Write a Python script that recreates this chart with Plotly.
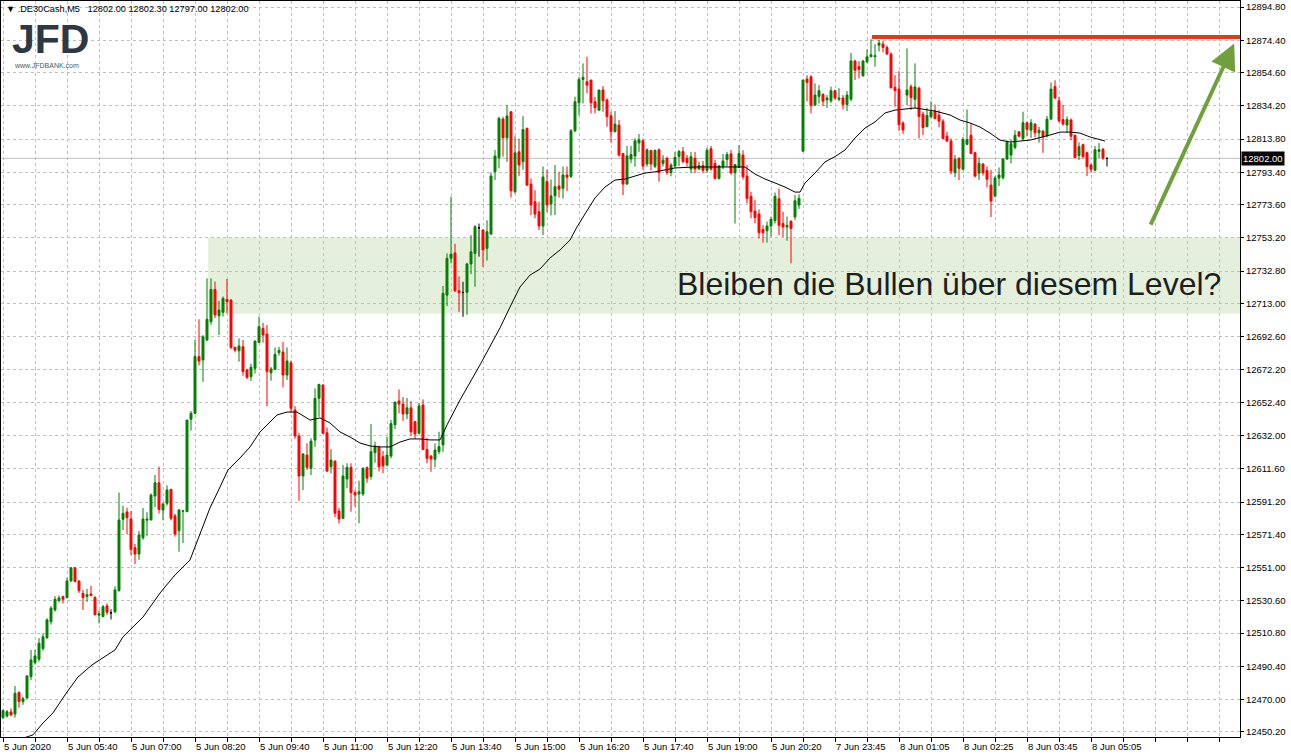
import plotly.graph_objects as go

# ---------------- data ----------------
opens = [
12459.0,12460.0,12462.5,12461.2,12474.5,12468.8,12471.0,12484.1,12492.7,12494.8,
12501.3,12508.0,12517.8,12525.0,12530.8,12533.2,12532.6,12542.8,12550.9,12542.8,
12535.2,12533.2,12534.8,12532.6,12521.8,12521.0,12527.5,12523.2,12523.9,12536.9,
12580.6,12585.1,12580.8,12563.2,12559.3,12569.3,12580.1,12580.2,12594.9,12603.0,
12586.3,12590.4,12599.0,12582.7,12573.6,12585.5,12585.3,12642.0,12645.6,12680.4,
12678.3,12690.6,12701.8,12721.6,12705.5,12707.6,12715.5,12715.1,12686.1,12684.0,
12686.5,12672.2,12668.1,12673.2,12689.0,12697.7,12694.2,12670.5,12672.6,12682.8,
12683.2,12669.1,12676.6,12647.7,12631.7,12607.2,12620.0,12611.9,12629.2,12654.8,
12663.0,12633.7,12612.9,12616.4,12585.7,12581.2,12605.3,12612.5,12597.0,12596.1,
12596.1,12612.3,12606.9,12621.5,12624.8,12619.0,12613.9,12619.4,12638.6,12653.2,
12651.3,12645.2,12649.0,12640.6,12633.4,12650.7,12623.5,12619.4,12617.4,12622.1,
12626.2,12718.1,12740.7,12744.0,12720.8,12719.7,12719.8,12737.2,12743.7,12759.4,
12758.0,12746.8,12755.6,12793.8,12802.4,12826.1,12814.6,12830.6,12781.5,12806.0,
12799.9,12820.3,12786.2,12775.4,12769.3,12760.5,12787.8,12774.0,12779.0,12785.0,
12783.6,12791.8,12790.9,12818.9,12836.1,12850.4,12849.0,12850.0,12836.7,12831.6,
12843.9,12837.8,12828.1,12818.3,12822.4,12805.0,12786.2,12801.6,12803.4,12811.4,
12812.8,12798.5,12806.8,12797.1,12807.3,12798.9,12802.0,12793.3,12797.3,12803.1,
12806.2,12802.0,12795.5,12802.0,12795.5,12797.6,12794.7,12807.9,12798.9,12789.7,
12796.8,12801.3,12804.8,12793.1,12796.4,12804.0,12791.1,12778.7,12769.7,12767.8,
12758.4,12757.6,12760.5,12763.8,12777.2,12762.0,12759.9,12763.4,12766.0,12773.4,
12806.4,12850.6,12852.0,12834.7,12840.0,12841.2,12837.9,12837.3,12843.5,12838.2,
12839.0,12835.0,12838.3,12861.7,12858.2,12852.7,12861.2,12864.3,12864.3,12871.4,
12872.1,12870.0,12866.0,12845.6,12844.5,12823.6,12840.8,12846.0,12838.2,12845.0,
12829.1,12821.5,12827.5,12831.0,12828.5,12824.8,12815.6,12812.6,12793.2,12802.0,
12795.3,12810.6,12816.2,12805.4,12792.9,12798.5,12794.5,12785.6,12778.9,12789.9,
12790.1,12801.6,12804.0,12808.7,12818.3,12814.2,12823.8,12819.3,12823.0,12817.7,
12818.7,12815.8,12826.1,12846.0,12837.3,12825.8,12822.4,12825.5,12816.2,12803.7,
12810.4,12805.4,12797.9,12794.7,12806.2,12807.5,12802.0]
highs = [
12464.0,12463.7,12464.7,12478.4,12475.0,12471.8,12485.0,12500.5,12500.5,12507.7,
12510.7,12519.9,12527.5,12533.5,12533.9,12533.8,12544.8,12551.0,12551.0,12543.0,
12537.3,12538.0,12539.8,12533.5,12524.7,12528.0,12529.0,12525.4,12539.5,12597.0,
12589.0,12587.7,12585.7,12565.5,12573.5,12587.5,12585.0,12596.5,12607.9,12612.9,
12591.0,12601.4,12599.2,12584.0,12587.0,12586.3,12641.5,12647.0,12690.6,12703.3,
12693.6,12728.4,12728.4,12726.4,12714.6,12717.3,12728.0,12715.5,12686.5,12691.6,
12690.6,12673.0,12676.0,12690.0,12704.9,12701.0,12699.8,12674.0,12686.0,12686.4,
12689.5,12686.0,12678.0,12650.0,12633.7,12621.0,12627.2,12630.3,12660.9,12663.6,
12663.4,12637.0,12623.6,12616.4,12587.6,12614.0,12615.0,12615.0,12598.6,12604.3,
12612.5,12613.0,12639.0,12628.2,12625.7,12622.5,12631.3,12641.6,12652.7,12660.3,
12655.5,12655.0,12653.0,12641.0,12652.0,12654.2,12630.5,12620.0,12627.2,12634.3,
12723.7,12743.7,12778.5,12749.6,12729.6,12726.3,12738.0,12754.9,12761.1,12762.0,
12758.3,12764.0,12793.3,12807.1,12827.5,12827.5,12834.7,12830.6,12815.6,12814.0,
12827.9,12821.0,12789.7,12782.5,12775.4,12797.0,12795.0,12789.0,12797.9,12793.8,
12797.0,12797.0,12820.0,12839.8,12852.0,12860.2,12864.3,12850.2,12839.8,12844.0,
12846.3,12838.8,12830.6,12831.0,12825.5,12805.0,12809.6,12809.6,12814.2,12816.9,
12814.0,12808.0,12807.3,12807.5,12808.0,12804.0,12803.0,12799.0,12806.0,12807.1,
12809.0,12804.0,12806.0,12806.0,12800.0,12800.5,12808.5,12809.6,12801.0,12798.0,
12804.6,12806.0,12807.2,12798.5,12810.2,12807.0,12797.9,12781.5,12776.4,12770.7,
12761.0,12763.3,12766.3,12781.0,12783.5,12769.3,12766.3,12764.0,12779.5,12780.0,
12850.2,12853.0,12853.0,12848.0,12846.9,12842.0,12840.8,12846.0,12844.0,12845.0,
12840.8,12843.3,12866.7,12862.4,12861.6,12862.3,12868.8,12875.0,12872.0,12874.6,
12874.0,12871.3,12867.0,12853.0,12855.5,12824.7,12869.4,12847.3,12860.2,12846.0,
12830.6,12833.0,12837.0,12835.0,12831.6,12826.0,12818.3,12814.2,12804.0,12802.6,
12815.0,12832.0,12823.4,12806.0,12802.6,12799.2,12797.0,12794.8,12791.1,12796.4,
12802.0,12813.0,12813.2,12819.3,12818.5,12830.6,12824.5,12826.0,12823.6,12821.4,
12819.3,12828.1,12848.6,12849.9,12839.8,12834.7,12827.7,12826.5,12816.5,12811.8,
12811.0,12806.0,12798.9,12809.6,12811.4,12808.5,12802.3]
lows = [
12458.0,12459.0,12460.2,12459.0,12465.1,12466.8,12470.5,12482.1,12491.5,12493.3,
12500.0,12507.3,12516.0,12524.0,12529.6,12529.0,12532.0,12542.5,12542.0,12535.5,
12525.0,12530.0,12533.5,12521.7,12516.7,12520.5,12522.0,12519.2,12523.0,12536.2,
12574.0,12571.6,12558.7,12553.2,12555.8,12568.0,12570.5,12580.0,12588.0,12584.3,
12580.0,12589.0,12580.0,12570.0,12560.7,12566.0,12585.0,12635.0,12645.0,12675.0,
12665.0,12690.0,12700.0,12704.0,12693.6,12705.0,12707.0,12685.0,12683.0,12677.3,
12668.6,12666.6,12665.5,12670.0,12688.7,12689.0,12650.0,12665.6,12672.0,12681.0,
12661.6,12666.0,12646.0,12630.0,12592.0,12598.6,12610.9,12607.8,12625.1,12643.5,
12633.0,12609.6,12608.8,12582.0,12578.0,12580.8,12599.7,12585.3,12588.4,12578.2,
12595.0,12603.0,12605.0,12615.3,12610.0,12609.0,12613.0,12618.0,12636.0,12645.6,
12641.0,12642.0,12632.0,12630.0,12633.0,12623.0,12615.0,12609.8,12612.5,12620.5,
12622.0,12711.4,12737.6,12720.0,12707.9,12704.8,12706.0,12731.0,12723.3,12741.7,
12735.5,12739.3,12755.0,12788.7,12795.9,12803.0,12799.9,12778.0,12780.5,12791.0,
12795.0,12785.0,12767.2,12765.2,12758.0,12755.0,12769.0,12767.0,12767.2,12778.0,
12777.4,12782.0,12790.0,12818.0,12828.4,12835.7,12842.0,12829.6,12829.6,12831.0,
12830.6,12821.4,12811.6,12818.0,12803.0,12779.5,12786.0,12799.0,12796.9,12806.0,
12795.0,12797.0,12794.6,12796.0,12787.7,12797.0,12792.0,12791.0,12796.0,12797.3,
12799.0,12797.0,12793.0,12793.0,12795.0,12793.0,12793.0,12794.4,12789.0,12789.0,
12795.4,12797.0,12792.0,12762.0,12796.0,12789.0,12774.3,12765.2,12762.0,12752.9,
12750.3,12750.3,12754.0,12762.0,12754.9,12753.7,12751.5,12737.6,12764.0,12771.0,
12806.0,12837.0,12829.6,12834.0,12835.6,12834.0,12833.0,12836.0,12838.0,12837.0,
12832.0,12831.0,12837.0,12850.0,12851.0,12852.0,12860.3,12864.0,12858.3,12867.5,
12867.0,12865.5,12845.0,12833.7,12818.9,12817.0,12834.7,12831.6,12832.6,12814.2,
12816.3,12821.0,12826.4,12826.0,12821.0,12814.0,12812.0,12792.2,12790.4,12788.7,
12794.7,12810.0,12804.6,12790.4,12788.7,12791.5,12784.2,12766.0,12778.0,12785.0,
12789.0,12801.0,12798.8,12807.5,12815.0,12812.8,12815.5,12814.5,12815.0,12811.6,
12805.4,12814.8,12825.5,12838.4,12824.0,12822.0,12817.7,12813.2,12802.0,12801.0,
12801.8,12791.1,12793.2,12794.0,12802.2,12801.0,12797.0]
closes = [
12463.3,12462.6,12460.6,12473.9,12468.8,12470.6,12484.5,12494.4,12496.8,12504.6,
12508.6,12518.9,12526.1,12531.6,12532.4,12531.6,12542.8,12550.9,12542.4,12536.9,
12532.6,12534.4,12533.8,12522.1,12522.7,12527.0,12523.6,12523.2,12537.3,12580.2,
12584.3,12581.6,12562.2,12559.3,12571.0,12580.8,12580.8,12595.5,12603.0,12586.7,
12590.0,12598.6,12581.2,12571.6,12586.3,12585.9,12641.5,12645.6,12680.4,12677.7,
12692.6,12703.3,12721.6,12705.9,12709.0,12716.1,12714.1,12686.1,12684.4,12686.9,
12671.2,12667.7,12673.9,12690.0,12698.7,12693.6,12671.2,12672.8,12681.8,12684.2,
12669.1,12677.7,12648.7,12631.7,12607.2,12620.7,12612.5,12628.6,12654.8,12663.4,
12633.4,12610.2,12617.0,12584.3,12580.8,12607.2,12612.5,12597.0,12595.5,12597.5,
12611.9,12605.8,12622.1,12625.6,12612.9,12613.3,12620.0,12639.3,12652.5,12651.3,
12645.2,12649.0,12634.3,12633.0,12650.1,12623.5,12618.0,12617.6,12623.1,12625.2,
12719.2,12740.7,12743.3,12720.8,12719.6,12719.7,12737.2,12744.7,12760.0,12759.4,
12745.8,12757.0,12791.2,12803.4,12826.5,12814.6,12828.0,12782.1,12805.4,12797.9,
12819.7,12785.6,12773.4,12767.8,12760.5,12790.6,12773.4,12779.0,12784.6,12783.0,
12791.8,12790.4,12818.9,12836.7,12850.4,12851.7,12846.9,12836.1,12833.0,12843.9,
12837.3,12827.6,12818.3,12823.0,12804.0,12786.2,12803.5,12804.3,12812.8,12813.4,
12797.3,12807.3,12798.5,12806.8,12793.3,12800.9,12793.3,12797.9,12802.6,12806.2,
12800.0,12799.4,12803.0,12795.5,12797.6,12794.7,12807.0,12795.5,12789.7,12797.3,
12800.4,12804.3,12793.1,12798.2,12805.0,12790.7,12777.4,12769.3,12765.6,12756.4,
12756.4,12760.5,12764.6,12778.7,12760.9,12759.9,12760.9,12759.0,12776.0,12777.5,
12850.0,12848.6,12834.3,12840.8,12843.5,12837.1,12839.0,12843.5,12839.0,12839.0,
12835.0,12840.8,12861.7,12856.0,12856.6,12861.7,12864.3,12865.5,12864.9,12872.7,
12870.0,12866.0,12845.2,12843.5,12822.6,12819.4,12843.9,12839.3,12845.8,12827.6,
12820.9,12828.3,12830.6,12826.4,12824.8,12814.2,12812.6,12794.2,12801.4,12795.9,
12813.6,12813.5,12805.0,12791.1,12799.0,12793.2,12789.2,12775.8,12789.9,12791.8,
12801.6,12811.8,12811.0,12816.2,12815.6,12823.8,12819.7,12823.8,12817.7,12819.3,
12815.2,12826.1,12844.5,12839.0,12825.0,12823.0,12825.8,12815.6,12802.5,12809.2,
12803.1,12796.9,12795.3,12807.3,12807.3,12802.2,12802.0]

# moving average (bar position, value)
ma_bar = [0, 7.5, 10, 12.5, 16, 18.75, 22.25, 24.25, 28, 30, 32.25, 35, 39.25, 43, 46.75,
          49.25, 51.75, 54.25, 56.25, 59.25, 61.75, 64.25, 66, 68.5, 71, 73.5, 76.75, 79.25,
          81.75, 84.25, 86.75, 89.25, 91.75, 94.25, 96.75, 99.25, 101.75, 104.25, 106.75,
          109.25, 111, 114.25, 119.25, 124.25, 126.75, 129.25, 131.75, 134.25, 136.75,
          139.25, 141.75, 143.5, 145.5, 148, 150.5, 153, 155.5, 158, 160.5, 163, 165.5, 168,
          173, 185.5, 188, 190.5, 193, 195.5, 198, 199.25, 200.5, 203, 205.5, 208, 210.5,
          213, 215.5, 218, 220.5, 223, 228, 233, 236.75, 239.25, 241.75, 244.25, 246.75,
          249.25, 251.75, 256.75, 261.75, 264.25, 266.75, 269.25, 271.75, 275.5]
ma_val = [12442.2, 12448.4, 12455.7, 12461.9, 12474.7, 12483.9, 12491.3, 12494.4, 12500.5,
          12508.5, 12514.0, 12520.7, 12535.4, 12546.5, 12555.7, 12572.2, 12587.6, 12600.4,
          12610.9, 12618.2, 12625.0, 12634.2, 12638.5, 12644.6, 12646.4, 12646.4, 12641.5,
          12642.8, 12639.7, 12634.2, 12631.1, 12627.4, 12625.6, 12625.0, 12625.0, 12628.0,
          12629.9, 12629.9, 12629.3, 12629.3, 12638.5, 12653.8, 12675.3, 12698.0, 12710.8,
          12723.1, 12730.4, 12734.1, 12740.9, 12745.8, 12751.9, 12759.9, 12767.9, 12777.7,
          12784.4, 12788.7, 12789.3, 12791.2, 12793.0, 12793.7, 12794.9, 12796.1, 12796.7,
          12796.7, 12792.4, 12789.3, 12786.9, 12784.4, 12781.3, 12781.3, 12786.9, 12793.0,
          12799.8, 12803.1, 12807.1, 12814.5, 12820.6, 12824.3, 12829.8, 12831.6, 12832.9,
          12831.0, 12828.6, 12825.5, 12823.7, 12821.2, 12817.5, 12813.2, 12812.0, 12813.2,
          12816.3, 12818.1, 12818.1, 12817.5, 12815.1, 12812.6]

x_labels = ["5 Jun 2020", "5 Jun 05:40", "5 Jun 07:00", "5 Jun 08:20", "5 Jun 09:40",
            "5 Jun 11:00", "5 Jun 12:20", "5 Jun 13:40", "5 Jun 15:00", "5 Jun 16:20",
            "5 Jun 17:40", "5 Jun 19:00", "5 Jun 20:20", "7 Jun 23:45", "8 Jun 01:05",
            "8 Jun 02:25", "8 Jun 03:45", "8 Jun 05:05"]
label_every = 16
grid_every = 8

y_ticks = [12450.20, 12470.00, 12490.40, 12510.80, 12530.60, 12551.00, 12571.40, 12591.20,
           12611.60, 12632.00, 12652.40, 12672.20, 12692.60, 12713.00, 12732.80, 12753.20,
           12773.60, 12793.40, 12813.80, 12834.20, 12854.60, 12874.40, 12894.80]

last_price = 12802.00
resistance_level = 12876.4
resistance_from_bar = 217.25
zone_low, zone_high = 12706.8, 12753.5
zone_from_bar = 51.3
arrow_from = (286.75, 12760.4)
arrow_to = (307.8, 12872.5)
header = "\u25BC .DE30Cash,M5\u00a0\u00a0 12802.00 12802.30 12797.00 12802.00"
question = "Bleiben die Bullen über diesem Level?"

X_MAX = 309.25
Y_RANGE = [12447.1, 12898.5]
FONT = "Liberation Sans"

# ---------------- figure ----------------
fig = go.Figure()

groups = {"up": ([], "#008000"), "down": ([], "#ff0000"), "flat": ([], "#000000")}
for i, (o, c) in enumerate(zip(opens, closes)):
    key = "up" if c > o else ("down" if c < o else "flat")
    groups[key][0].append(i)

for key, (ids, col) in groups.items():
    style = dict(line=dict(color=col, width=1), fillcolor=col)
    fig.add_trace(go.Candlestick(
        x=ids,
        open=[opens[i] for i in ids], high=[highs[i] for i in ids],
        low=[lows[i] for i in ids], close=[closes[i] for i in ids],
        increasing=style, decreasing=style, whiskerwidth=0,
        showlegend=False, hoverinfo="skip"))

fig.add_trace(go.Scatter(x=ma_bar, y=ma_val, mode="lines",
                         line=dict(color="black", width=1),
                         showlegend=False, hoverinfo="skip"))

shapes = [
    dict(type="rect", xref="x", yref="y", x0=zone_from_bar, x1=X_MAX, y0=zone_low, y1=zone_high,
         fillcolor="#e5f0dc", line=dict(width=0), layer="below"),
    dict(type="line", xref="paper", yref="y", x0=0, x1=1, y0=last_price, y1=last_price,
         line=dict(color="#c0c0c0", width=1), layer="below"),
    dict(type="line", xref="x", yref="y", x0=resistance_from_bar, x1=X_MAX,
         y0=resistance_level, y1=resistance_level,
         line=dict(color="#e63a17", width=4), layer="above"),
]

annotations = []
for k, lab in enumerate(x_labels):
    annotations.append(dict(x=k * label_every, y=0, xref="x", yref="paper", text=lab,
                            showarrow=False, xanchor="left", yanchor="top", yshift=-2, xshift=-1,
                            font=dict(family=FONT, size=9.5, color="black")))
annotations += [
    dict(x=1, y=last_price, xref="paper", yref="y", text="12802.00", showarrow=False,
         xanchor="left", yanchor="middle", bgcolor="black", borderpad=1, xshift=1,
         font=dict(family=FONT, size=9.5, color="white")),
    dict(x=0, y=1, xref="paper", yref="paper", text=header, showarrow=False,
         xanchor="left", yanchor="top", xshift=3, yshift=-1,
         font=dict(family=FONT, size=9.2, color="black")),
    dict(x=0, y=1, xref="paper", yref="paper", text="<b>JFD</b>", showarrow=False,
         xanchor="left", yanchor="top", xshift=9, yshift=-13,
         font=dict(family=FONT, size=41, color="#2e3843")),
    dict(x=0, y=1, xref="paper", yref="paper", text="www.JFDBANK.com", showarrow=False,
         xanchor="left", yanchor="top", xshift=11, yshift=-59,
         font=dict(family=FONT, size=7, color="#555555")),
    dict(x=168, y=12724.9, xref="x", yref="y", text=question, showarrow=False,
         xanchor="left", yanchor="middle",
         font=dict(family=FONT, size=32, color="#1e1e1e")),
    dict(x=arrow_to[0], y=arrow_to[1], ax=arrow_from[0], ay=arrow_from[1],
         xref="x", yref="y", axref="x", ayref="y", text="", showarrow=True,
         arrowhead=2, arrowsize=1.3, arrowwidth=4, arrowcolor="#6fa03c"),
]

fig.update_layout(
    template="none",
    width=1291, height=756,
    margin=dict(l=1, r=51, t=1, b=19),
    paper_bgcolor="white", plot_bgcolor="white",
    showlegend=False, hovermode=False,
    font=dict(family=FONT, size=9.5, color="black"),
    shapes=shapes, annotations=annotations,
    xaxis=dict(range=[-0.5, X_MAX], tickvals=list(range(0, int(X_MAX) + 1, grid_every)),
               showticklabels=False, ticks="outside", ticklen=4, tickcolor="black",
               showgrid=True, gridcolor="#c0c0c0", griddash="3px,3px", gridwidth=1,
               zeroline=False, showline=True, linecolor="black", linewidth=1, mirror=True,
               rangeslider=dict(visible=False), automargin=False, fixedrange=True),
    yaxis=dict(range=Y_RANGE, side="right", tickvals=y_ticks,
               ticktext=[f"{v:.2f}" for v in y_ticks], ticks="outside", ticklen=3,
               tickcolor="black", showgrid=True, gridcolor="#c0c0c0", griddash="3px,3px",
               gridwidth=1, zeroline=False, showline=True, linecolor="black", linewidth=1,
               mirror=True, automargin=False, fixedrange=True,
               tickfont=dict(family=FONT, size=9.5, color="black")),
)

fig.write_html("out.html", config={"displayModeBar": False, "staticPlot": True},
               post_script="document.body.style.margin='0';document.body.style.overflow='hidden';")
